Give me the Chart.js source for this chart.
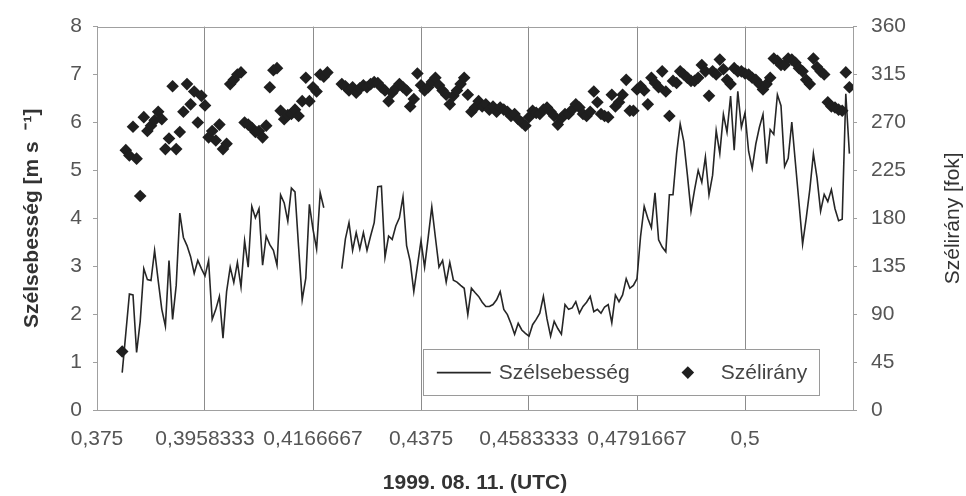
<!DOCTYPE html>
<html>
<head>
<meta charset="utf-8">
<script src="https://cdn.jsdelivr.net/npm/chart.js@4.4.0/dist/chart.umd.min.js"></script>
<style>
html,body{margin:0;padding:0;background:#fff;}
#wrap{width:966px;height:496px;}
</style>
</head>
<body>
<div id="wrap"><canvas id="c" width="966" height="496"></canvas></div>
<script>
// Sampling grid: 1-minute data starting 09:07 UTC (fraction of day on the x axis)
const startMinuteOfDay = 547;
const stepMinutes = 1;

// Wind speed [m/s], one value per minute (null = missing)
const speed = [
  0.78, 1.6, 2.42, 2.4, 1.2, 1.85, 2.95, 2.72, 2.7, 3.33,
  2.7, 2.1, 1.75, 3.12, 1.89, 2.6, 4.11, 3.6, 3.43, 3.2,
  2.85, 3.12, 2.95, 2.8, 3.12, 1.89, 2.1, 2.37, 1.5, 2.47,
  2.98, 2.66, 3.08, 2.57, 3.53, 2.98, 4.25, 4.01, 4.2, 3.02,
  3.63, 3.45, 3.33, 3.02, 4.49, 4.32, 3.94, 4.63, 4.55, 3.4,
  2.3, 2.75, 4.29, 3.77, 3.36, 4.53, 4.22, null, null, null,
  null, 2.95, 3.57, 3.91, 3.33, 3.7, 3.36, 3.7, 3.33, 3.63,
  3.91, 4.66, 4.67, 3.19, 3.63, 3.56, 3.84, 4.01, 4.45, 3.43,
  3.1, 2.47, 3.0, 3.53, 2.98, 3.6, 4.24, 3.6, 2.98, 3.12,
  2.67, 3.08, 2.71, 2.67, 2.6, 2.54, 1.99, 2.54, 2.45, 2.37,
  2.25, 2.16, 2.16, 2.2, 2.3, 2.47, 2.1, 1.99, 1.8, 1.58,
  1.81, 1.67, 1.6, 1.54, 1.78, 1.89, 2.02, 2.37, 1.9, 1.54,
  1.85, 1.7, 1.58, 2.2, 2.1, 2.13, 2.26, 2.02, 2.16, 2.25,
  2.37, 2.05, 2.1, 2.02, 2.15, 2.2, 1.82, 2.4, 2.26, 2.4,
  2.74, 2.54, 2.6, 2.74, 3.63, 4.25, 4.0, 3.8, 4.53, 3.55,
  3.4, 3.3, 4.49, 4.49, 5.35, 5.97, 5.6, 4.9, 4.15, 4.6,
  5.0, 4.75, 5.28, 4.49, 4.9, 5.83, 5.35, 6.17, 5.8, 6.55,
  5.42, 6.65, 5.9, 6.2, 5.4, 5.04, 5.55, 5.9, 6.17, 5.14,
  5.85, 5.75, 6.58, 6.35, 5.08, 5.25, 6.01, 5.16, 4.32, 3.46,
  4.0, 4.6, 5.35, 4.85, 4.15, 4.5, 4.35, 4.6, 4.2, 3.95,
  3.98, 6.6, 5.35
];

// Wind direction [degrees], one value per minute (null = missing)
const direction = [
  55, 244, 239, 266, 236, 201, 275, 262, 267, 272,
  280, 273, 245, 255, 304, 245, 261, 280, 306, 287,
  299, 270, 295, 286, 256, 262, 253, 268, 245, 250,
  306, 310, 315, 317, 270, 268, 265, 261, 262, 256,
  267, 303, 319, 321, 281, 273, 277, 278, 282, 276,
  290, 312, 290, 303, 299, 315, 313, 317, null, null,
  null, 306, 304, 300, 303, 298, 302, 305, 303, 306,
  308, 307, 303, 300, 290, 298, 302, 306, 303, 300,
  285, 292, 316, 305, 300, 303, 308, 312, 305, 300,
  296, 287, 295, 300, 306, 312, 296, 280, 284, 290,
  285, 287, 282, 285, 280, 284, 282, 280, 276, 278,
  273, 270, 267, 275, 281, 279, 278, 282, 284, 280,
  276, 268, 274, 278, 278, 282, 287, 284, 278, 276,
  280, 299, 289, 278, 276, 275, 296, 285, 289, 296,
  310, 281, 281, 301, 304, 300, 287, 312, 307, 303,
  318, 299, 276, 309, 307, 318, 315, 312, 309, 309,
  312, 324, 318, 295, 318, 315, 329, 320, 310, 306,
  321, 318, 318, 316, 315, 312, 310, 306, 301, 306,
  312, 330, 328, 324, 324, 330, 329, 326, 321, 318,
  310, 306, 330, 322, 318, 315, 289, 285, 284, 282,
  281, 317, 303
];

// X axis (fraction of day) ticks and their printed labels
const xTickValues = [0.375, 0.3958333, 0.4166667, 0.4375, 0.4583333, 0.4791667, 0.5];
const xTickLabels = ['0,375', '0,3958333', '0,4166667', '0,4375', '0,4583333', '0,4791667', '0,5'];
const xMin = 0.375, xMax = 0.5208333;
const speedMin = 0, speedMax = 8, speedStep = 1;
const dirMin = 0, dirMax = 360, dirStep = 45;

const seriesNames = ['Szélsebesség', 'Szélirány'];
const axisTitles = { x: '1999. 08. 11. (UTC)', y: 'Szélsebesség [m s  \u207B\u00B9]', y2: 'Szélirány [fok]' };

const times = speed.map((_, i) => (startMinuteOfDay + i * stepMinutes) / 1440);
const speedPts = speed.map((v, i) => ({ x: times[i], y: v }));
const dirPts = direction.map((v, i) => ({ x: times[i], y: v }));

const FONT = "'Liberation Sans', Arial, sans-serif";
const FS = 21;

const framePlugin = {
  id: 'frame',
  beforeDatasetsDraw(chart) {
    const { ctx, chartArea: a } = chart;
    ctx.save();
    ctx.strokeStyle = '#a0a0a0';
    ctx.lineWidth = 1;
    ctx.strokeRect(Math.round(a.left) + 0.5, Math.round(a.top) + 0.5, Math.round(a.width), Math.round(a.height));
    ctx.restore();
  }
};

// Right-axis title reads bottom-to-top, as in the original
const rightTitlePlugin = {
  id: 'rightTitle',
  afterDraw(chart) {
    const { ctx, chartArea: a } = chart;
    const s = chart.scales.y2;
    ctx.save();
    ctx.translate(s.right - 13, (a.top + a.bottom) / 2);
    ctx.rotate(-Math.PI / 2);
    ctx.font = FS + 'px ' + FONT;
    ctx.fillStyle = '#333';
    ctx.textAlign = 'center';
    ctx.textBaseline = 'middle';
    ctx.fillText(axisTitles.y2, 0, 0);
    ctx.restore();
  }
};

const legendPlugin = {
  id: 'boxLegend',
  afterDraw(chart) {
    const { ctx, chartArea: a } = chart;
    const ds = chart.data.datasets;
    const bx = a.left + 0.431 * a.width;
    const by = a.top + 0.842 * a.height;
    const bw = 0.524 * a.width;
    const bh = 0.121 * a.height;
    ctx.save();
    ctx.fillStyle = '#fff';
    ctx.fillRect(bx, by, bw, bh);
    ctx.strokeStyle = '#9a9a9a';
    ctx.lineWidth = 1;
    ctx.strokeRect(Math.round(bx) + 0.5, Math.round(by) + 0.5, Math.round(bw), Math.round(bh));
    const cy = by + bh / 2;
    ctx.font = FS + 'px ' + FONT;
    ctx.textBaseline = 'middle';
    ctx.fillStyle = '#444';
    const sp = ds.find(d => d.label === seriesNames[0]);
    ctx.strokeStyle = sp.borderColor;
    ctx.lineWidth = sp.borderWidth;
    ctx.beginPath();
    ctx.moveTo(bx + 14, cy);
    ctx.lineTo(bx + 68, cy);
    ctx.stroke();
    ctx.fillText(sp.label, bx + 76, cy + 1);
    const dr = ds.find(d => d.label === seriesNames[1]);
    const mx = bx + 265, r = dr.pointRadius;
    ctx.fillStyle = dr.backgroundColor;
    ctx.beginPath();
    ctx.moveTo(mx, cy - r);
    ctx.lineTo(mx + r, cy);
    ctx.lineTo(mx, cy + r);
    ctx.lineTo(mx - r, cy);
    ctx.closePath();
    ctx.fill();
    ctx.fillStyle = '#444';
    ctx.fillText(dr.label, bx + 298, cy + 1);
    ctx.restore();
  }
};

new Chart(document.getElementById('c'), {
  type: 'line',
  data: {
    datasets: [
      {
        label: seriesNames[0],
        data: speedPts,
        yAxisID: 'y',
        borderColor: '#262626',
        borderWidth: 1.6,
        pointRadius: 0,
        fill: false,
        tension: 0,
        spanGaps: false,
        order: 1
      },
      {
        label: seriesNames[1],
        data: dirPts,
        yAxisID: 'y2',
        showLine: false,
        pointStyle: 'rectRot',
        pointRadius: 6.3,
        pointBorderWidth: 0,
        backgroundColor: '#1f1f1f',
        borderColor: '#1f1f1f',
        order: 0
      }
    ]
  },
  options: {
    responsive: false,
    animation: false,
    devicePixelRatio: 1,
    layout: { padding: { top: 21, left: 0, right: 0, bottom: 0 } },
    plugins: { legend: { display: false }, tooltip: { enabled: false } },
    scales: {
      x: {
        type: 'linear',
        min: xMin,
        max: xMax,
        afterBuildTicks: s => { s.ticks = xTickValues.map(v => ({ value: v })); },
        afterFit: s => { s.height = 86; },
        ticks: {
          autoSkip: false,
          maxRotation: 0,
          padding: 17,
          color: '#555',
          font: { family: FONT, size: FS },
          callback: (v, i) => xTickLabels[i]
        },
        grid: { color: '#8c8c8c', lineWidth: 1, drawTicks: false },
        border: { color: '#a0a0a0' },
        title: {
          display: true,
          text: axisTitles.x,
          color: '#333',
          font: { family: FONT, size: FS, weight: 'bold' },
          padding: { top: 0, bottom: 0 }
        }
      },
      y: {
        position: 'left',
        min: speedMin,
        max: speedMax,
        afterFit: s => { s.width = 97; },
        ticks: { stepSize: speedStep, padding: 11, color: '#555', font: { family: FONT, size: FS } },
        grid: { drawOnChartArea: false, tickLength: 4, tickColor: '#a0a0a0' },
        border: { color: '#a0a0a0' },
        title: {
          display: true,
          text: axisTitles.y,
          color: '#333',
          font: { family: FONT, size: FS, weight: 'bold' },
          padding: { top: 20, bottom: 0 }
        }
      },
      y2: {
        position: 'right',
        min: dirMin,
        max: dirMax,
        afterFit: s => { s.width = 113; },
        ticks: { stepSize: dirStep, padding: 14, color: '#555', font: { family: FONT, size: FS } },
        grid: { drawOnChartArea: false, tickLength: 4, tickColor: '#a0a0a0' },
        border: { color: '#a0a0a0' },
        title: { display: false }
      }
    }
  },
  plugins: [framePlugin, rightTitlePlugin, legendPlugin]
});
</script>
</body>
</html>
